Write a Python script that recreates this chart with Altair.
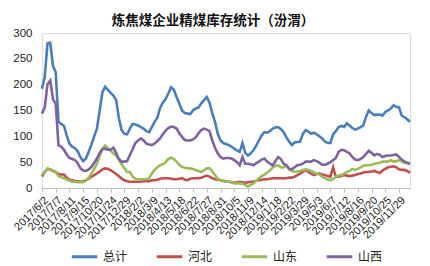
import altair as alt
import pandas as pd

series_names = ["总计", "河北", "山东", "山西"]
series_colors = ["#4A7EBB", "#C0504D", "#9BBB59", "#7F62A0"]

tick_labels = ["2017/6/2", "2017/7/7", "2017/8/11", "2017/9/15", "2017/10/20", "2017/11/24",
               "2017/12/29", "2018/2/2", "2018/3/9", "2018/4/13", "2018/5/18", "2018/6/22",
               "2018/7/27", "2018/8/31", "2018/10/5", "2018/11/9", "2018/12/14", "2019/1/18",
               "2019/2/22", "2019/3/29", "2019/5/3", "2019/6/7", "2019/7/12", "2019/8/16",
               "2019/9/20", "2019/10/25", "2019/11/29"]

total = [192, 215, 280, 281, 236, 224, 128, 124, 120, 102, 86, 80, 77, 71, 60, 52, 57, 70, 84, 100,
         115, 150, 185, 196, 190, 184, 179, 170, 135, 112, 105, 104, 115, 124, 123, 121, 118, 115, 110, 108,
         118, 128, 136, 155, 165, 172, 183, 195, 190, 176, 163, 150, 145, 144, 143, 150, 154, 156, 164, 170,
         176, 165, 145, 128, 105, 92, 87, 85, 83, 80, 76, 73, 70, 87, 68, 63, 67, 73, 82, 92,
         102, 108, 107, 110, 115, 117, 118, 114, 108, 98, 90, 83, 88, 89, 90, 105, 112, 109, 105, 107,
         104, 100, 96, 90, 87, 87, 104, 110, 118, 120, 118, 125, 121, 116, 113, 115, 118, 121, 138, 150,
         145, 141, 142, 142, 140, 147, 150, 154, 160, 157, 156, 140, 137, 133, 128]

hebei = [22, 31, 37, 36, 33, 31, 27, 26, 26, 20, 16, 15, 13, 13, 12, 13, 15, 18, 22, 25,
         28, 32, 36, 38, 37, 34, 31, 27, 23, 18, 15, 13, 12, 12, 12, 12, 12, 13, 13, 13,
         15, 15, 16, 18, 19, 19, 19, 18, 17, 17, 18, 19, 16, 15, 18, 19, 19, 19, 20, 22,
         24, 22, 19, 17, 16, 15, 14, 13, 12, 11, 10, 11, 12, 11, 10, 11, 12, 12, 14, 15,
         16, 17, 17, 18, 19, 19, 19, 19, 19, 19, 20, 20, 22, 25, 28, 31, 35, 31, 28, 25,
         27, 28, 26, 25, 23, 22, 40, 22, 22, 23, 25, 24, 23, 24, 25, 27, 28, 30, 31, 31,
         32, 33, 31, 29, 34, 37, 40, 41, 42, 40, 36, 35, 35, 33, 29]

shandong = [25, 31, 38, 36, 34, 31, 23, 21, 19, 16, 14, 12, 12, 11, 11, 11, 14, 20, 28, 37,
            47, 62, 76, 82, 77, 72, 67, 63, 54, 46, 38, 31, 31, 22, 18, 17, 17, 17, 17, 19,
            28, 35, 40, 44, 46, 50, 56, 59, 56, 51, 45, 41, 39, 38, 38, 37, 35, 33, 31, 34,
            38, 38, 32, 25, 18, 15, 13, 12, 13, 11, 9, 9, 9, 8, 6, 3, 6, 9, 14, 19,
            23, 26, 30, 34, 40, 43, 44, 40, 40, 44, 36, 33, 31, 32, 33, 35, 36, 35, 33, 30,
            28, 26, 22, 19, 17, 15, 17, 22, 24, 25, 28, 31, 33, 37, 35, 37, 40, 43, 44, 44,
            45, 47, 48, 49, 51, 51, 51, 54, 51, 52, 54, 51, 49, 48, 47]

shanxi = [144, 156, 201, 208, 172, 163, 83, 80, 74, 65, 58, 56, 54, 48, 38, 34, 33, 36, 41, 49,
          57, 68, 75, 76, 74, 74, 78, 68, 56, 51, 51, 52, 64, 75, 87, 92, 96, 92, 86, 84,
          83, 86, 91, 96, 104, 111, 116, 119, 118, 115, 106, 99, 93, 92, 92, 94, 98, 106, 112, 115,
          113, 110, 92, 78, 67, 60, 57, 58, 58, 57, 54, 50, 44, 60, 47, 47, 46, 44, 48, 51,
          55, 57, 51, 47, 44, 52, 60, 56, 47, 44, 37, 36, 40, 44, 45, 47, 51, 51, 51, 54,
          52, 49, 45, 45, 47, 50, 54, 58, 70, 74, 73, 70, 67, 60, 55, 54, 56, 60, 66, 72,
          68, 63, 66, 64, 60, 62, 63, 63, 64, 65, 60, 55, 51, 49, 47]

dates = [f"{d.year}/{d.month}/{d.day}" for d in pd.date_range("2017-06-02", periods=len(total), freq="7D")]

rows = []
for name, vals in zip(series_names, [total, hebei, shandong, shanxi]):
    for k, (d, v) in enumerate(zip(dates, vals)):
        rows.append({"date": d, "idx": k, "series": name, "value": v})
df = pd.DataFrame(rows)

chart = alt.Chart(df).mark_line(strokeWidth=2.6, interpolate="linear").encode(
    x=alt.X("date:O", sort=dates,
            scale=alt.Scale(type="point", padding=0),
            axis=alt.Axis(title=None, values=tick_labels, labelAngle=-45, labelFontSize=11,
                          labelColor="#222222", labelFont="Liberation Sans", labelPadding=2,
                          domainColor="#BFBFBF", tickColor="#BFBFBF", tickSize=4, grid=False,
                          labelOverlap=False)),
    y=alt.Y("value:Q", scale=alt.Scale(domain=[0, 300], nice=False),
            axis=alt.Axis(title=None, values=[0, 50, 100, 150, 200, 250, 300], grid=False,
                          domain=False, ticks=False, labelPadding=10, labelFontSize=11.5,
                          labelColor="#222222", labelFont="Liberation Sans")),
    color=alt.Color("series:N", sort=series_names,
                    scale=alt.Scale(domain=series_names, range=series_colors),
                    legend=alt.Legend(title=None, orient="none", legendX=28, legendY=209,
                                      direction="horizontal", symbolType="stroke",
                                      symbolSize=650, symbolStrokeWidth=3, labelFontSize=12,
                                      labelFont="Noto Sans CJK SC", labelColor="#222222",
                                      columnPadding=22, labelOffset=4)),
    order=alt.Order("idx:Q"),
).properties(
    width=368, height=155,
    title=alt.TitleParams("炼焦煤企业精煤库存统计（汾渭）", fontSize=13.5, fontWeight="bold",
                          font="Noto Sans CJK SC", color="#111111", anchor="middle", dx=-13, offset=0),
    autosize=alt.AutoSizeParams(type="none"),
    padding={"left": 42, "top": 33, "right": 20, "bottom": 78},
).configure_view(stroke=None).configure(background="white")

chart.save("out.html", embed_options={"renderer": "svg", "actions": False})
